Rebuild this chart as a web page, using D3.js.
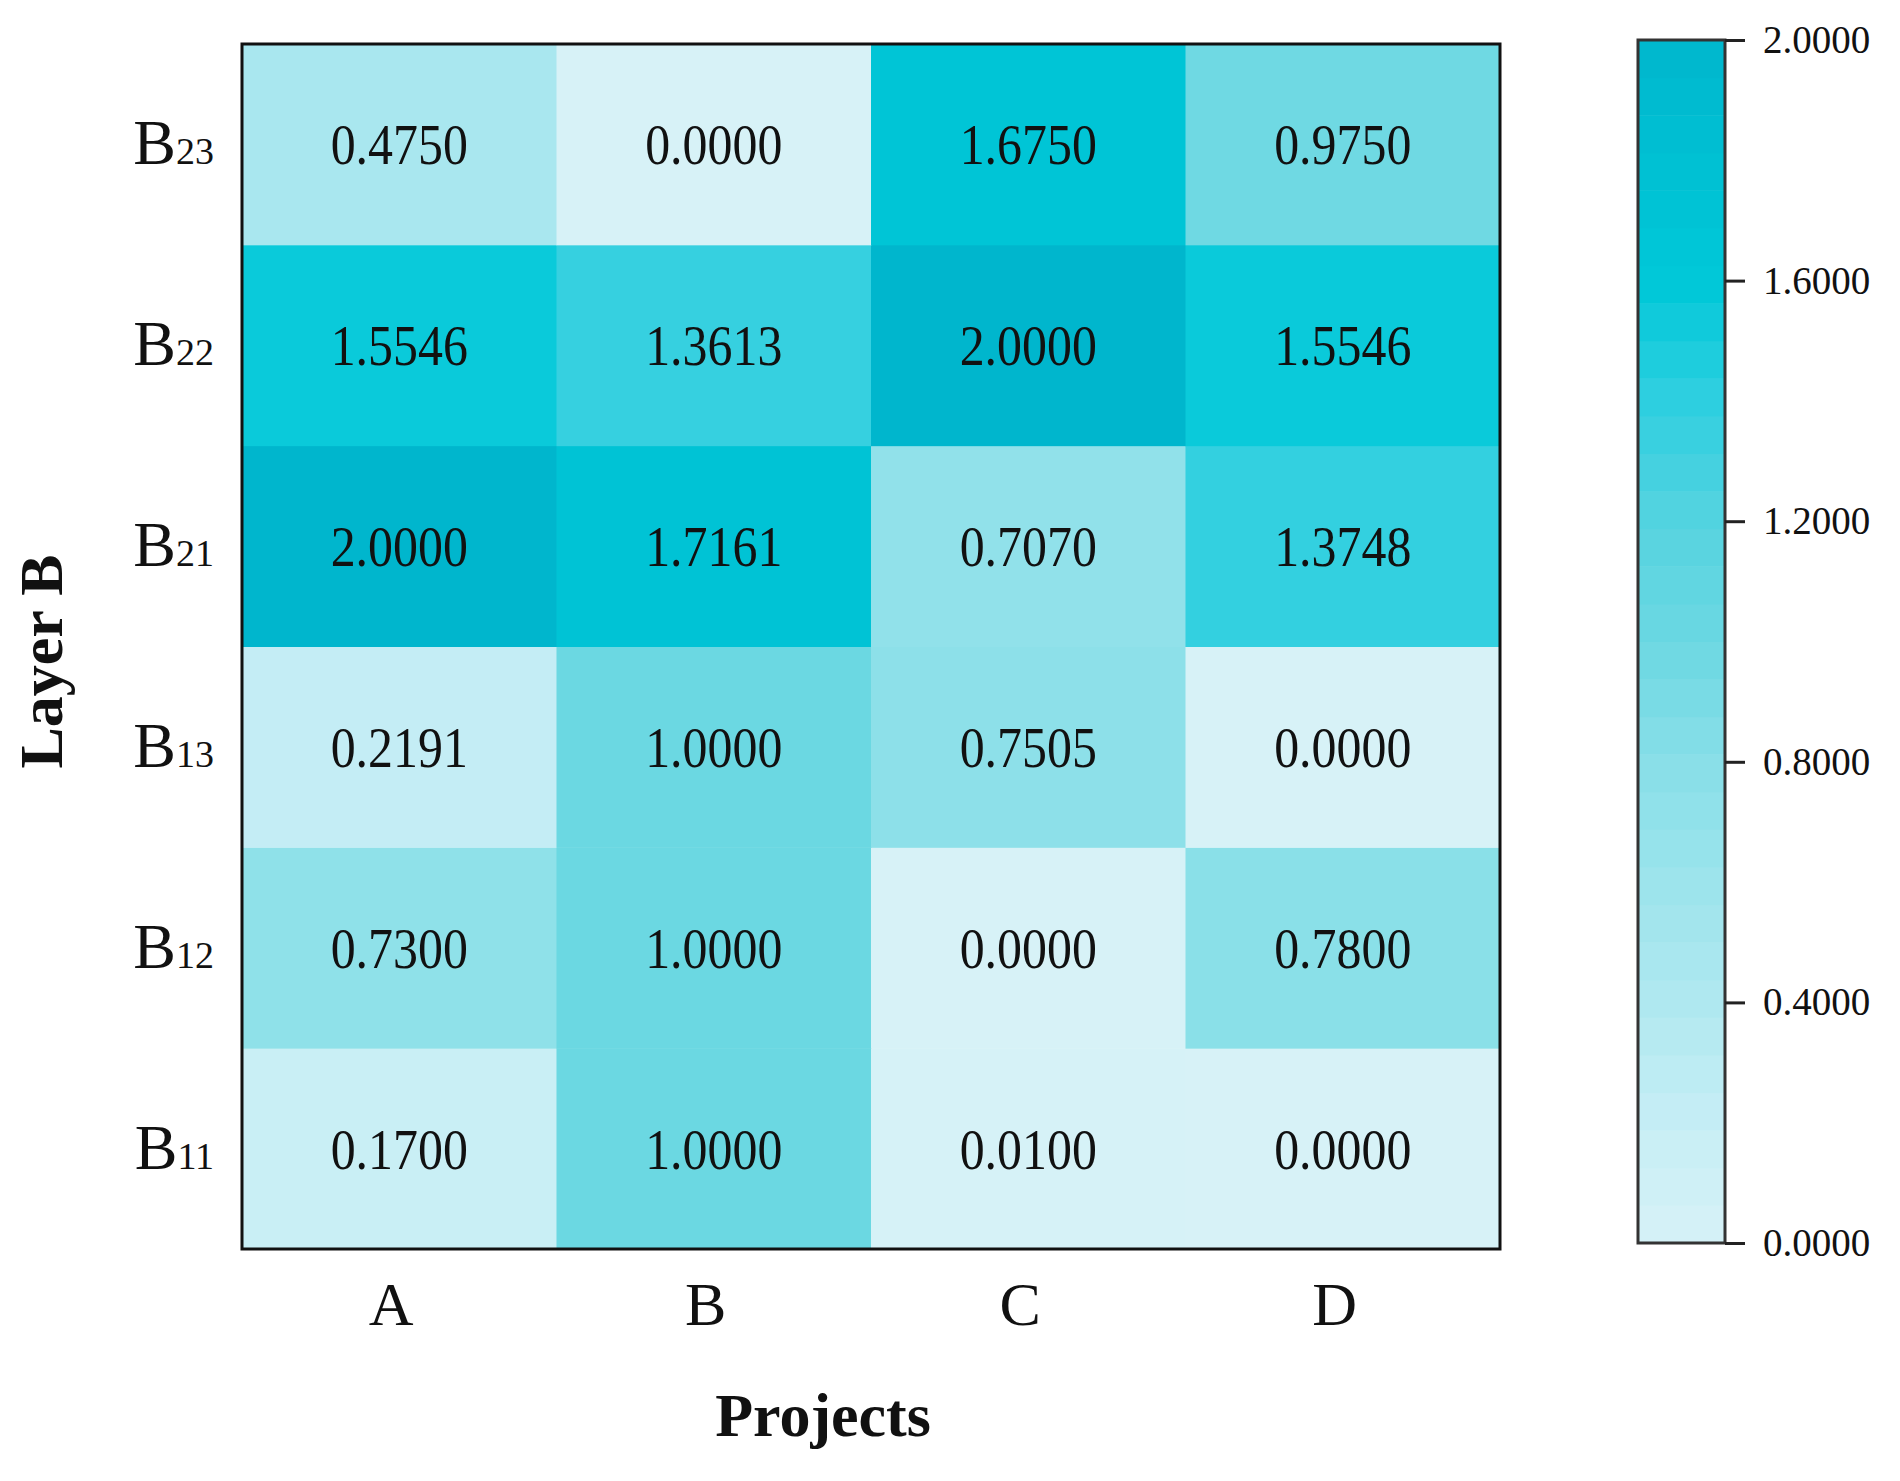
<!DOCTYPE html>
<html>
<head>
<meta charset="utf-8">
<script src="https://cdnjs.cloudflare.com/ajax/libs/d3/7.8.5/d3.min.js"></script>
<style>
  body { margin: 0; background: #fff; }
  text { font-family: "Liberation Serif", "Times New Roman", serif; fill: #111; }
</style>
</head>
<body>
<svg></svg>
<script>
let projects = ['A', 'B', 'C', 'D']
let rows = ['B11', 'B12', 'B13', 'B21', 'B22', 'B23']

// values per row, in project order A..D
let valB11 = [0.1700, 1.0000, 0.0100, 0.0000]
let valB12 = [0.7300, 1.0000, 0.0000, 0.7800]
let valB13 = [0.2191, 1.0000, 0.7505, 0.0000]
let valB21 = [2.0000, 1.7161, 0.7070, 1.3748]
let valB22 = [1.5546, 1.3613, 2.0000, 1.5546]
let valB23 = [0.4750, 0.0000, 1.6750, 0.9750]
let values = [valB11, valB12, valB13, valB21, valB22, valB23]

let colorTicks = [0, 0.4, 0.8, 1.2, 1.6, 2.0]
let colorStops = [0, 0.2, 0.4, 0.6, 0.8, 1.0, 1.2, 1.4, 1.6, 1.8, 2.0]
let colorList = ['#d7f2f7', '#c6eef5', '#b0e8f0', '#9ce4ec', '#88dfe8', '#6bd8e2',
                 '#55d3e0', '#2ecfe0', '#00c8d8', '#00c0d3', '#00b6cd']

let width = 1900
let height = 1481
let mLeft = 242, mRight = 1500, mTop = 44, mBottom = 1249

let svg = d3.select('svg').attr('width', width).attr('height', height)

let color = d3.scaleLinear().domain(colorStops).range(colorList)

let xScale = d3.scaleBand().domain(projects).range([mLeft, mRight])
let yScale = d3.scaleBand().domain(rows.slice().reverse()).range([mTop, mBottom])

let cells = []
rows.forEach((r, i) => {
  projects.forEach((p, j) => {
    cells.push({row: r, project: p, value: values[i][j]})
  })
})

svg.selectAll('rect.cell')
   .data(cells)
   .enter()
   .append('rect')
   .attr('class', 'cell')
   .attr('x', d => xScale(d.project))
   .attr('y', d => yScale(d.row))
   .attr('width', xScale.bandwidth() + 0.5)
   .attr('height', yScale.bandwidth() + 0.5)
   .attr('fill', d => color(d.value))

svg.selectAll('text.val')
   .data(cells)
   .enter()
   .append('text')
   .attr('class', 'val')
   .attr('text-anchor', 'middle')
   .attr('font-size', 58)
   .attr('transform', d => 'translate(' + (xScale(d.project) + xScale.bandwidth() / 2) + ',' +
         (yScale(d.row) + yScale.bandwidth() / 2 + 20) + ') scale(0.86,1)')
   .text(d => d.value.toFixed(4))

svg.append('rect')
   .attr('x', mLeft).attr('y', mTop)
   .attr('width', mRight - mLeft).attr('height', mBottom - mTop)
   .attr('fill', 'none').attr('stroke', '#111').attr('stroke-width', 3)

// row labels with subscripts
let yLab = svg.selectAll('text.rowlab')
   .data(rows)
   .enter()
   .append('text')
   .attr('class', 'rowlab')
   .attr('text-anchor', 'end')
   .attr('x', mLeft - 28)
   .attr('y', d => yScale(d) + yScale.bandwidth() / 2 + 20)
yLab.append('tspan').attr('font-size', 64).text(d => d[0])
yLab.append('tspan').attr('font-size', 38).text(d => d.slice(1))

// column labels
let xAxis = d3.axisBottom(xScale).tickSize(0).tickPadding(0)
let gx = svg.append('g')
   .attr('transform', 'translate(0,' + mBottom + ')')
   .call(xAxis)
gx.select('.domain').remove()
gx.selectAll('text')
  .attr('font-size', 62)
  .attr('dy', 0)
  .attr('y', 76)
  .attr('x', -8)
  .style('font-family', '"Liberation Serif", serif')
  .attr('fill', '#111')

svg.append('text')
   .attr('x', 823)
   .attr('y', 1436)
   .attr('text-anchor', 'middle')
   .attr('font-size', 62)
   .attr('font-weight', 'bold')
   .text('Projects')

svg.append('text')
   .attr('transform', 'translate(62,' + ((mTop + mBottom) / 2 + 15) + ') rotate(-90)')
   .attr('text-anchor', 'middle')
   .attr('font-size', 62)
   .attr('font-weight', 'bold')
   .text('Layer B')

// color bar
let cbX = 1638, cbW = 87, cbTop = 40, cbBottom = 1243
let cbScale = d3.scaleLinear().domain([0, 2]).range([cbBottom, cbTop])
let nBands = 32
let bands = d3.range(nBands).map(i => i * 2 / nBands)
svg.selectAll('rect.band')
   .data(bands)
   .enter()
   .append('rect')
   .attr('class', 'band')
   .attr('x', cbX)
   .attr('width', cbW)
   .attr('y', d => cbScale(d + 2 / nBands))
   .attr('height', (cbBottom - cbTop) / nBands + 0.5)
   .attr('fill', d => color(d + 1 / nBands))

svg.append('rect')
   .attr('x', cbX).attr('y', cbTop)
   .attr('width', cbW).attr('height', cbBottom - cbTop)
   .attr('fill', 'none').attr('stroke', '#333').attr('stroke-width', 3)

let cAxis = d3.axisRight(cbScale).tickValues(colorTicks).tickSize(20).tickPadding(18)
              .tickFormat(d3.format('.4f'))
let gc = svg.append('g')
   .attr('transform', 'translate(' + (cbX + cbW) + ',0)')
   .call(cAxis)
gc.select('.domain').remove()
gc.selectAll('line').attr('stroke', '#222').attr('stroke-width', 3)
gc.selectAll('text')
  .attr('font-size', 39)
  .style('font-family', '"Liberation Serif", serif')
  .attr('fill', '#111')
</script>
</body>
</html>
